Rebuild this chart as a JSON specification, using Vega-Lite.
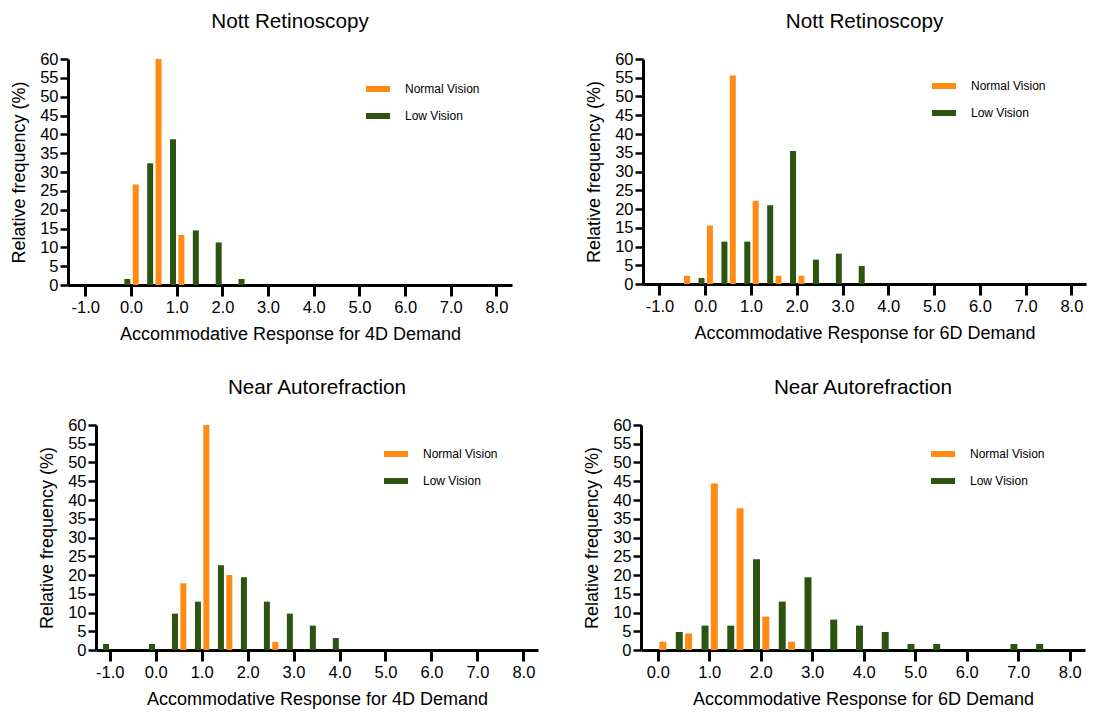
{
  "$schema": "https://vega.github.io/schema/vega-lite/v6.json",
  "background": "white",
  "padding": {"left": 10, "top": 11, "right": 5, "bottom": 5},
  "data": {"values": [
    {"panel": "A", "group": "Low Vision", "x": 0.0, "pct": 1.6},
    {"panel": "A", "group": "Low Vision", "x": 0.5, "pct": 32.3},
    {"panel": "A", "group": "Low Vision", "x": 1.0, "pct": 38.7},
    {"panel": "A", "group": "Low Vision", "x": 1.5, "pct": 14.5},
    {"panel": "A", "group": "Low Vision", "x": 2.0, "pct": 11.3},
    {"panel": "A", "group": "Low Vision", "x": 2.5, "pct": 1.6},
    {"panel": "A", "group": "Normal Vision", "x": 0.0, "pct": 26.7},
    {"panel": "A", "group": "Normal Vision", "x": 0.5, "pct": 60.0},
    {"panel": "A", "group": "Normal Vision", "x": 1.0, "pct": 13.3},
    {"panel": "B", "group": "Normal Vision", "x": -0.5, "pct": 2.2},
    {"panel": "B", "group": "Normal Vision", "x": 0.0, "pct": 15.6},
    {"panel": "B", "group": "Normal Vision", "x": 0.5, "pct": 55.6},
    {"panel": "B", "group": "Normal Vision", "x": 1.0, "pct": 22.2},
    {"panel": "B", "group": "Normal Vision", "x": 1.5, "pct": 2.2},
    {"panel": "B", "group": "Normal Vision", "x": 2.0, "pct": 2.2},
    {"panel": "B", "group": "Low Vision", "x": 0.0, "pct": 1.6},
    {"panel": "B", "group": "Low Vision", "x": 0.5, "pct": 11.3},
    {"panel": "B", "group": "Low Vision", "x": 1.0, "pct": 11.3},
    {"panel": "B", "group": "Low Vision", "x": 1.5, "pct": 21.0},
    {"panel": "B", "group": "Low Vision", "x": 2.0, "pct": 35.5},
    {"panel": "B", "group": "Low Vision", "x": 2.5, "pct": 6.5},
    {"panel": "B", "group": "Low Vision", "x": 3.0, "pct": 8.1},
    {"panel": "B", "group": "Low Vision", "x": 3.5, "pct": 4.8},
    {"panel": "C", "group": "Low Vision", "x": -1.0, "pct": 1.6},
    {"panel": "C", "group": "Low Vision", "x": 0.0, "pct": 1.6},
    {"panel": "C", "group": "Low Vision", "x": 0.5, "pct": 9.7},
    {"panel": "C", "group": "Low Vision", "x": 1.0, "pct": 12.9},
    {"panel": "C", "group": "Low Vision", "x": 1.5, "pct": 22.6},
    {"panel": "C", "group": "Low Vision", "x": 2.0, "pct": 19.4},
    {"panel": "C", "group": "Low Vision", "x": 2.5, "pct": 12.9},
    {"panel": "C", "group": "Low Vision", "x": 3.0, "pct": 9.7},
    {"panel": "C", "group": "Low Vision", "x": 3.5, "pct": 6.5},
    {"panel": "C", "group": "Low Vision", "x": 4.0, "pct": 3.2},
    {"panel": "C", "group": "Normal Vision", "x": 0.5, "pct": 17.8},
    {"panel": "C", "group": "Normal Vision", "x": 1.0, "pct": 60.0},
    {"panel": "C", "group": "Normal Vision", "x": 1.5, "pct": 20.0},
    {"panel": "C", "group": "Normal Vision", "x": 2.5, "pct": 2.2},
    {"panel": "D", "group": "Normal Vision", "x": 0.0, "pct": 2.2},
    {"panel": "D", "group": "Normal Vision", "x": 0.5, "pct": 4.4},
    {"panel": "D", "group": "Normal Vision", "x": 1.0, "pct": 44.4},
    {"panel": "D", "group": "Normal Vision", "x": 1.5, "pct": 37.8},
    {"panel": "D", "group": "Normal Vision", "x": 2.0, "pct": 8.9},
    {"panel": "D", "group": "Normal Vision", "x": 2.5, "pct": 2.2},
    {"panel": "D", "group": "Low Vision", "x": 0.5, "pct": 4.8},
    {"panel": "D", "group": "Low Vision", "x": 1.0, "pct": 6.5},
    {"panel": "D", "group": "Low Vision", "x": 1.5, "pct": 6.5},
    {"panel": "D", "group": "Low Vision", "x": 2.0, "pct": 24.2},
    {"panel": "D", "group": "Low Vision", "x": 2.5, "pct": 12.9},
    {"panel": "D", "group": "Low Vision", "x": 3.0, "pct": 19.4},
    {"panel": "D", "group": "Low Vision", "x": 3.5, "pct": 8.1},
    {"panel": "D", "group": "Low Vision", "x": 4.0, "pct": 6.5},
    {"panel": "D", "group": "Low Vision", "x": 4.5, "pct": 4.8},
    {"panel": "D", "group": "Low Vision", "x": 5.0, "pct": 1.6},
    {"panel": "D", "group": "Low Vision", "x": 5.5, "pct": 1.6},
    {"panel": "D", "group": "Low Vision", "x": 7.0, "pct": 1.6},
    {"panel": "D", "group": "Low Vision", "x": 7.5, "pct": 1.6}
  ]},
  "config": {
    "font": "Liberation Sans",
    "view": {"stroke": null},
    "axis": {"domainColor": "black", "domainWidth": 3, "tickColor": "black", "labelColor": "black", "titleColor": "black", "labelFont": "Liberation Sans", "titleFont": "Liberation Sans", "labelFontSize": 16.5, "titleFontSize": 18, "titleFontWeight": "normal", "grid": false},
    "axisX": {"tickSize": 11, "tickWidth": 3, "labelPadding": 3, "titlePadding": 10, "labelExpr": "replace(datum.label, '\u2212', '-')"},
    "axisY": {"tickSize": 8, "tickWidth": 2.5, "labelPadding": 2, "titlePadding": 11},
    "legend": {"symbolType": "M-1,-0.25H1V0.25H-1Z", "symbolSize": 576, "symbolStrokeWidth": 0, "symbolOpacity": 1, "labelFontSize": 12, "labelColor": "black", "labelFont": "Liberation Sans", "labelOffset": 15, "rowPadding": 9, "padding": 0},
    "title": {"fontSize": 20.7, "fontWeight": "normal", "color": "black", "anchor": "middle", "frame": "group", "offset": 18, "font": "Liberation Sans"}
  },
  "resolve": {"legend": {"color": "independent"}},
  "spacing": 33,
  "vconcat": [
    {
      "resolve": {"legend": {"color": "independent"}},
      "spacing": 73,
      "hconcat": [
        {
          "width": 444, "height": 226,
          "title": "Nott Retinoscopy",
          "transform": [{"filter": "datum.panel == 'A'"}],
          "encoding": {
            "x": {"field": "x", "type": "quantitative", "scale": {"domain": [-1.27, 8.23], "nice": false, "zero": false}, "axis": {"values": [-1, 0, 1, 2, 3, 4, 5, 6, 7, 8], "format": ".1f", "title": "Accommodative Response for 4D Demand"}},
            "y": {"field": "pct", "type": "quantitative", "scale": {"domain": [0, 60], "nice": false}, "axis": {"values": [0, 5, 10, 15, 20, 25, 30, 35, 40, 45, 50, 55, 60], "labelOverlap": false, "title": "Relative frequency (%)"}},
            "color": {"field": "group", "type": "nominal", "scale": {"domain": ["Normal Vision", "Low Vision"], "range": ["#FF8A14", "#2C5410"]}, "legend": {"orient": "none", "legendX": 298, "legendY": 18, "title": null}}
          },
          "layer": [
            {"transform": [{"filter": "datum.group == 'Low Vision'"}], "mark": {"type": "bar", "width": 6, "xOffset": -3.7}},
            {"transform": [{"filter": "datum.group == 'Normal Vision'"}], "mark": {"type": "bar", "width": 6, "xOffset": 4.7}}
          ]
        },
        {
          "width": 443, "height": 225,
          "title": "Nott Retinoscopy",
          "transform": [{"filter": "datum.panel == 'B'"}],
          "encoding": {
            "x": {"field": "x", "type": "quantitative", "scale": {"domain": [-1.25, 8.21], "nice": false, "zero": false}, "axis": {"values": [-1, 0, 1, 2, 3, 4, 5, 6, 7, 8], "format": ".1f", "title": "Accommodative Response for 6D Demand"}},
            "y": {"field": "pct", "type": "quantitative", "scale": {"domain": [0, 60], "nice": false}, "axis": {"values": [0, 5, 10, 15, 20, 25, 30, 35, 40, 45, 50, 55, 60], "labelOverlap": false, "title": "Relative frequency (%)"}},
            "color": {"field": "group", "type": "nominal", "scale": {"domain": ["Normal Vision", "Low Vision"], "range": ["#FF8A14", "#2C5410"]}, "legend": {"orient": "none", "legendX": 289, "legendY": 15, "title": null}}
          },
          "layer": [
            {"transform": [{"filter": "datum.group == 'Low Vision'"}], "mark": {"type": "bar", "width": 6, "xOffset": -3.7}},
            {"transform": [{"filter": "datum.group == 'Normal Vision'"}], "mark": {"type": "bar", "width": 6, "xOffset": 4.7}}
          ]
        }
      ]
    },
    {
      "resolve": {"legend": {"color": "independent"}},
      "spacing": 45,
      "hconcat": [
        {
          "resolve": {"legend": {"color": "independent"}},
          "bounds": "flush",
          "spacing": 27,
          "hconcat": [
            {"width": 1, "height": 1, "data": {"values": []}, "mark": "point"},
            {
              "width": 442, "height": 225,
              "title": "Near Autorefraction",
              "transform": [{"filter": "datum.panel == 'C'"}],
              "encoding": {
                "x": {"field": "x", "type": "quantitative", "scale": {"domain": [-1.19, 8.21], "nice": false, "zero": false}, "axis": {"values": [-1, 0, 1, 2, 3, 4, 5, 6, 7, 8], "format": ".1f", "title": "Accommodative Response for 4D Demand"}},
                "y": {"field": "pct", "type": "quantitative", "scale": {"domain": [0, 60], "nice": false}, "axis": {"values": [0, 5, 10, 15, 20, 25, 30, 35, 40, 45, 50, 55, 60], "labelOverlap": false, "title": "Relative frequency (%)"}},
                "color": {"field": "group", "type": "nominal", "scale": {"domain": ["Normal Vision", "Low Vision"], "range": ["#FF8A14", "#2C5410"]}, "legend": {"orient": "none", "legendX": 288, "legendY": 17, "title": null}}
              },
              "layer": [
                {"transform": [{"filter": "datum.group == 'Low Vision'"}], "mark": {"type": "bar", "width": 6, "xOffset": -3.7}},
                {"transform": [{"filter": "datum.group == 'Normal Vision'"}], "mark": {"type": "bar", "width": 6, "xOffset": 4.7}}
              ]
            }
          ]
        },
        {
          "width": 444, "height": 225,
          "title": "Near Autorefraction",
          "transform": [{"filter": "datum.panel == 'D'"}],
          "encoding": {
            "x": {"field": "x", "type": "quantitative", "scale": {"domain": [-0.23, 8.2], "nice": false, "zero": false}, "axis": {"values": [0, 1, 2, 3, 4, 5, 6, 7, 8], "format": ".1f", "title": "Accommodative Response for 6D Demand"}},
            "y": {"field": "pct", "type": "quantitative", "scale": {"domain": [0, 60], "nice": false}, "axis": {"values": [0, 5, 10, 15, 20, 25, 30, 35, 40, 45, 50, 55, 60], "labelOverlap": false, "title": "Relative frequency (%)"}},
            "color": {"field": "group", "type": "nominal", "scale": {"domain": ["Normal Vision", "Low Vision"], "range": ["#FF8A14", "#2C5410"]}, "legend": {"orient": "none", "legendX": 290, "legendY": 17, "title": null}}
          },
          "layer": [
            {"transform": [{"filter": "datum.group == 'Low Vision'"}], "mark": {"type": "bar", "width": 7, "xOffset": -4.3}},
            {"transform": [{"filter": "datum.group == 'Normal Vision'"}], "mark": {"type": "bar", "width": 7, "xOffset": 5.0}}
          ]
        }
      ]
    }
  ]
}
